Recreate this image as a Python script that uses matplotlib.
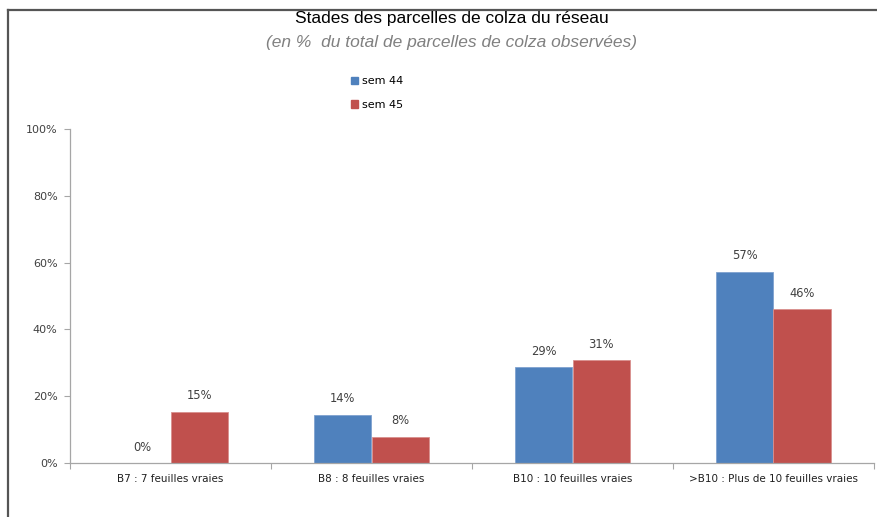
import numpy as np
import matplotlib
matplotlib.use("Agg")
import matplotlib.pyplot as plt
import matplotlib.lines as mlines
import matplotlib.patches as mpatches

# Chart data
categories = [
    "B7 : 7 feuilles vraies",
    "B8 : 8 feuilles vraies",
    "B10 : 10 feuilles vraies",
    ">B10 : Plus de 10 feuilles vraies",
]
sem_44 = [0.0, 14.4, 28.7, 57.2]
sem_45 = [15.3, 7.8, 30.8, 46.1]
series_names = ["sem 44", "sem 45"]
y_ticks = [0, 20, 40, 60, 80, 100]

BLUE = "#4F81BD"
RED = "#C0504D"
AXIS = "#A6A6A6"

fig = plt.figure(figsize=(8.77, 5.17), dpi=100)
fig.patch.set_facecolor("white")

# outer frame (top and left edges only, as in the screenshot)
fig.add_artist(mlines.Line2D([8 / 877, 1.0], [1 - 9.5 / 517] * 2, color="#555555", lw=1.6))
fig.add_artist(mlines.Line2D([8 / 877] * 2, [0, 1 - 9.5 / 517], color="#555555", lw=1.6))

ax = fig.add_axes([70 / 877, 1 - 463 / 517, (874 - 70) / 877, (463 - 129) / 517])

x = np.arange(len(categories))
w = 0.284
b1 = ax.bar(x - w / 2, sem_44, w, color=BLUE, edgecolor="#7FA2CF", linewidth=0.6)
b2 = ax.bar(x + w / 2, sem_45, w, color=RED, edgecolor="#D9908E", linewidth=0.6)

for bars, vals in ((b1, sem_44), (b2, sem_45)):
    for rect, v in zip(bars, vals):
        ax.annotate(f"{v:.0f}%", (rect.get_x() + rect.get_width() / 2, v),
                    xytext=(0, 11.5), textcoords="offset points",
                    ha="center", va="center", fontsize=8.3, color="#404040")

ax.set_xlim(-0.5, len(categories) - 0.5)
ax.set_ylim(0, 100)
ax.set_yticks(y_ticks)
ax.set_yticklabels([f"{t}%" for t in y_ticks], fontsize=8, color="#404040")

ax.set_xticks(x)
ax.set_xticklabels(categories, fontsize=7.5, color="#202020")
ax.tick_params(axis="x", length=0, pad=8)
ax.set_xticks(np.arange(len(categories) + 1) - 0.5, minor=True)
ax.tick_params(axis="x", which="minor", length=4, color=AXIS, width=0.8)
ax.tick_params(axis="y", length=4, color=AXIS, width=0.8, pad=5)

for s in ("top", "right"):
    ax.spines[s].set_visible(False)
for s in ("left", "bottom"):
    ax.spines[s].set_color(AXIS)
    ax.spines[s].set_linewidth(0.9)

fig.text(452 / 877, 1 - 19 / 517, "Stades des parcelles de colza du réseau",
         ha="center", va="center", fontsize=12.5, family="Liberation Sans", color="black")
fig.text(452 / 877, 1 - 42 / 517, "(en %  du total de parcelles de colza observées)",
         ha="center", va="center", fontsize=12.5, family="Liberation Sans",
         style="italic", color="#808080")

handles = [mpatches.Patch(color=BLUE, label=series_names[0]),
           mpatches.Patch(color=RED, label=series_names[1])]
fig.legend(handles=handles, loc="upper left", bbox_to_anchor=(341 / 877, 1 - 66 / 517),
           frameon=False, fontsize=8, handlelength=0.6, handleheight=0.6,
           handletextpad=0.4, labelspacing=1.25)

fig.savefig("out.png", dpi=100, facecolor="white")
